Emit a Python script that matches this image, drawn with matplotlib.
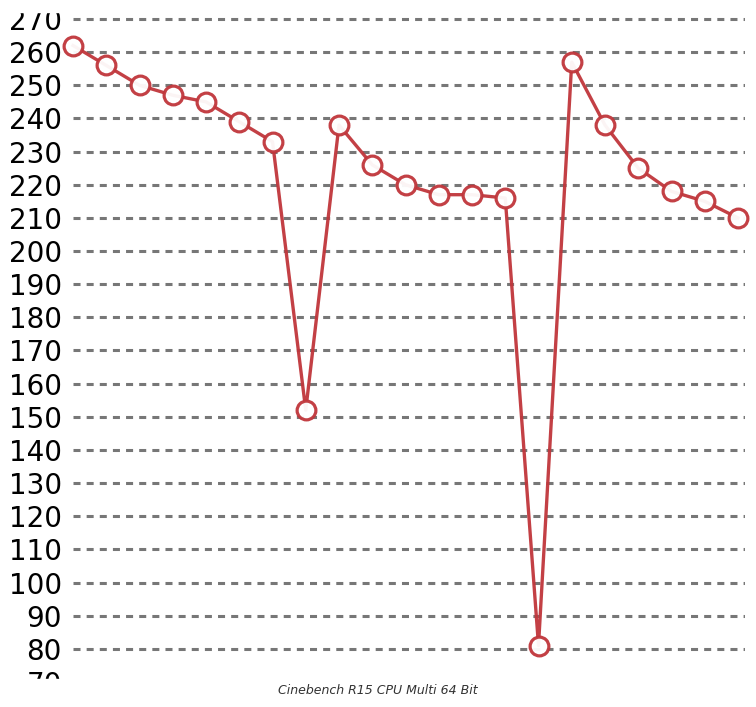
import numpy as np
import matplotlib.pyplot as plt
from matplotlib.patches import Rectangle

# Cinebench R15 CPU Multi 64 Bit scores
scores = [262, 256, 250, 247, 245, 239, 233, 152, 238, 226, 220,
          217, 217, 216, 81, 257, 238, 225, 218, 215, 210]
yticks = list(range(70, 280, 10))
title = 'Cinebench R15 CPU Multi 64 Bit'

plt.rcParams['font.family'] = ['DejaVu Sans']

W, H = 756, 707
fig = plt.figure(figsize=(W / 100, H / 100), dpi=100)

# axes placement in pixels
y_lo, y_hi = 65, 275
ppu = (682 - 19) / 200.0
top_px = 19 - (y_hi - 270) * ppu
bot_px = 682 + (70 - y_lo) * ppu
left_px, right_px = 73, 745
ax = fig.add_axes([left_px / W, 1 - bot_px / H,
                   (right_px - left_px) / W, (bot_px - top_px) / H])

xs = np.arange(len(scores))
ax.plot(xs, scores, color='#c0363b', lw=2.4, alpha=0.95,
        marker='o', ms=13.5, mew=2.3, mec='#c0363b',
        mfc=(1, 1, 1, 0.85), zorder=3, clip_on=False)

ax.set_ylim(y_lo, y_hi)
ax.set_xlim(0, (len(scores) - 1) * (right_px - left_px) / (738 - left_px))
ax.set_yticks(yticks)
ax.set_yticklabels([str(t) for t in yticks], fontsize=20)
ax.set_xticks([])
ax.tick_params(axis='y', length=0, pad=8)
for t in yticks:
    ax.axhline(t, color='#777777', lw=2.2, dashes=(2.3, 2.0), zorder=1)
for s in ax.spines.values():
    s.set_visible(False)

# cropped edges of the original image
fig.add_artist(Rectangle((0, 1 - 12 / H), 1, 12 / H, transform=fig.transFigure,
                         color='white', zorder=10))
fig.add_artist(Rectangle((0, 0), 1, 1 - 679 / H, transform=fig.transFigure,
                         color='white', zorder=10))

fig.text(378 / W, 1 - 691 / H, title, ha='center', va='center',
         fontsize=9, style='italic', color='#333333', zorder=11)

fig.savefig('out.png', dpi=100)
